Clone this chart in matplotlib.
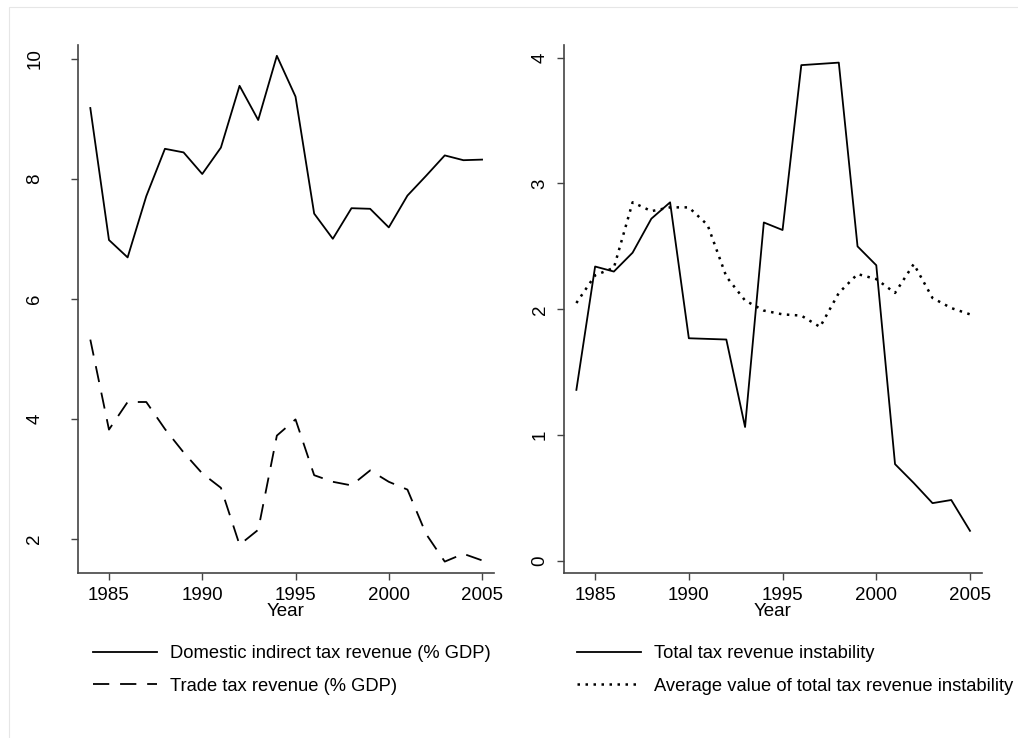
import matplotlib
matplotlib.use("Agg")
import matplotlib.pyplot as plt
from matplotlib.patches import Rectangle

plt.rcParams['font.family'] = ['Liberation Sans', 'DejaVu Sans']

years = list(range(1984, 2006))

domestic_tax = [9.18, 6.98, 6.69, 7.71, 8.50, 8.44, 8.08, 8.52, 9.55, 8.98, 10.05,
                9.37, 7.42, 7.00, 7.51, 7.50, 7.19, 7.72, 8.05, 8.39, 8.31, 8.32]
trade_tax = [5.32, 3.82, 4.28, 4.28, 3.83, 3.44, 3.09, 2.85, 1.90, 2.15, 3.72,
             3.99, 3.06, 2.95, 2.89, 3.14, 2.95, 2.82, 2.08, 1.62, 1.75, 1.64]

total_instability = [1.36, 2.34, 2.30, 2.45, 2.72, 2.85, 1.77, 1.765, 1.76, 1.065, 2.69,
                     2.63, 3.94, 3.95, 3.96, 2.50, 2.35, 0.77, 0.62, 0.46, 0.485, 0.24]
avg_instability = [2.05, 2.27, 2.33, 2.85, 2.78, 2.81, 2.81, 2.67, 2.26, 2.07, 1.99,
                   1.96, 1.95, 1.86, 2.13, 2.28, 2.24, 2.13, 2.36, 2.09, 2.01, 1.96]

left_yticks = [2, 4, 6, 8, 10]
right_yticks = [0, 1, 2, 3, 4]
xticks = [1985, 1990, 1995, 2000, 2005]

FS = 13.5
LEG_FS = 13.2
spine_col = '#444444'

fig = plt.figure(figsize=(10.18, 7.38), dpi=100)
fig.patches.append(Rectangle((9 / 1018, -0.05), 1.2, 1 - 7 / 738 + 0.05,
                             transform=fig.transFigure, fill=False,
                             edgecolor='#e6e6e6', linewidth=0.8))

ax1 = fig.add_axes([78 / 1018, 1 - 573 / 738, (494 - 78) / 1018, (573 - 45) / 738])
ax2 = fig.add_axes([564 / 1018, 1 - 573 / 738, (982 - 564) / 1018, (573 - 45) / 738])


def style_axis(ax, yticks, ypad):
    for s in ['top', 'right']:
        ax.spines[s].set_visible(False)
    for s in ['left', 'bottom']:
        ax.spines[s].set_color(spine_col)
        ax.spines[s].set_linewidth(1.2)
    ax.set_xticks(xticks)
    ax.set_yticks(yticks)
    ax.tick_params(axis='both', direction='out', length=5, width=1.0,
                   color=spine_col, labelsize=FS)
    ax.tick_params(axis='x', pad=5)
    ax.tick_params(axis='y', pad=ypad)
    for lab in ax.get_yticklabels():
        lab.set_rotation(90)
        lab.set_va('center')
    ax.set_xlabel('Year', fontsize=FS, labelpad=-1)
    ax.set_xlim(1983.34, 2005.64)


ax1.plot(years, domestic_tax, color='black', linewidth=1.3,
         label='Domestic indirect tax revenue (% GDP)')
ax1.plot(years, trade_tax, color='black', linewidth=1.3, dashes=(9, 6),
         label='Trade tax revenue (% GDP)')
ax1.set_ylim(1.43, 10.23)
style_axis(ax1, left_yticks, 20)

ax2.plot(years, total_instability, color='black', linewidth=1.3,
         label='Total tax revenue instability')
ax2.plot(years, avg_instability, color='black', linewidth=1.8, dashes=(1, 2.2),
         label='Average value of total tax revenue instability')
ax2.set_ylim(-0.095, 4.1)
style_axis(ax2, right_yticks, 6)

leg_kw = dict(loc='upper left', frameon=False, fontsize=LEG_FS, handlelength=3.5,
              handletextpad=0.7, labelspacing=0.85, borderpad=0, borderaxespad=0)
ax1.legend(bbox_to_anchor=(93 / 1018, 1 - 645 / 738),
           bbox_transform=fig.transFigure, **leg_kw)
ax2.legend(bbox_to_anchor=(577 / 1018, 1 - 645 / 738),
           bbox_transform=fig.transFigure, **leg_kw)

fig.savefig('out.png', dpi=100)
